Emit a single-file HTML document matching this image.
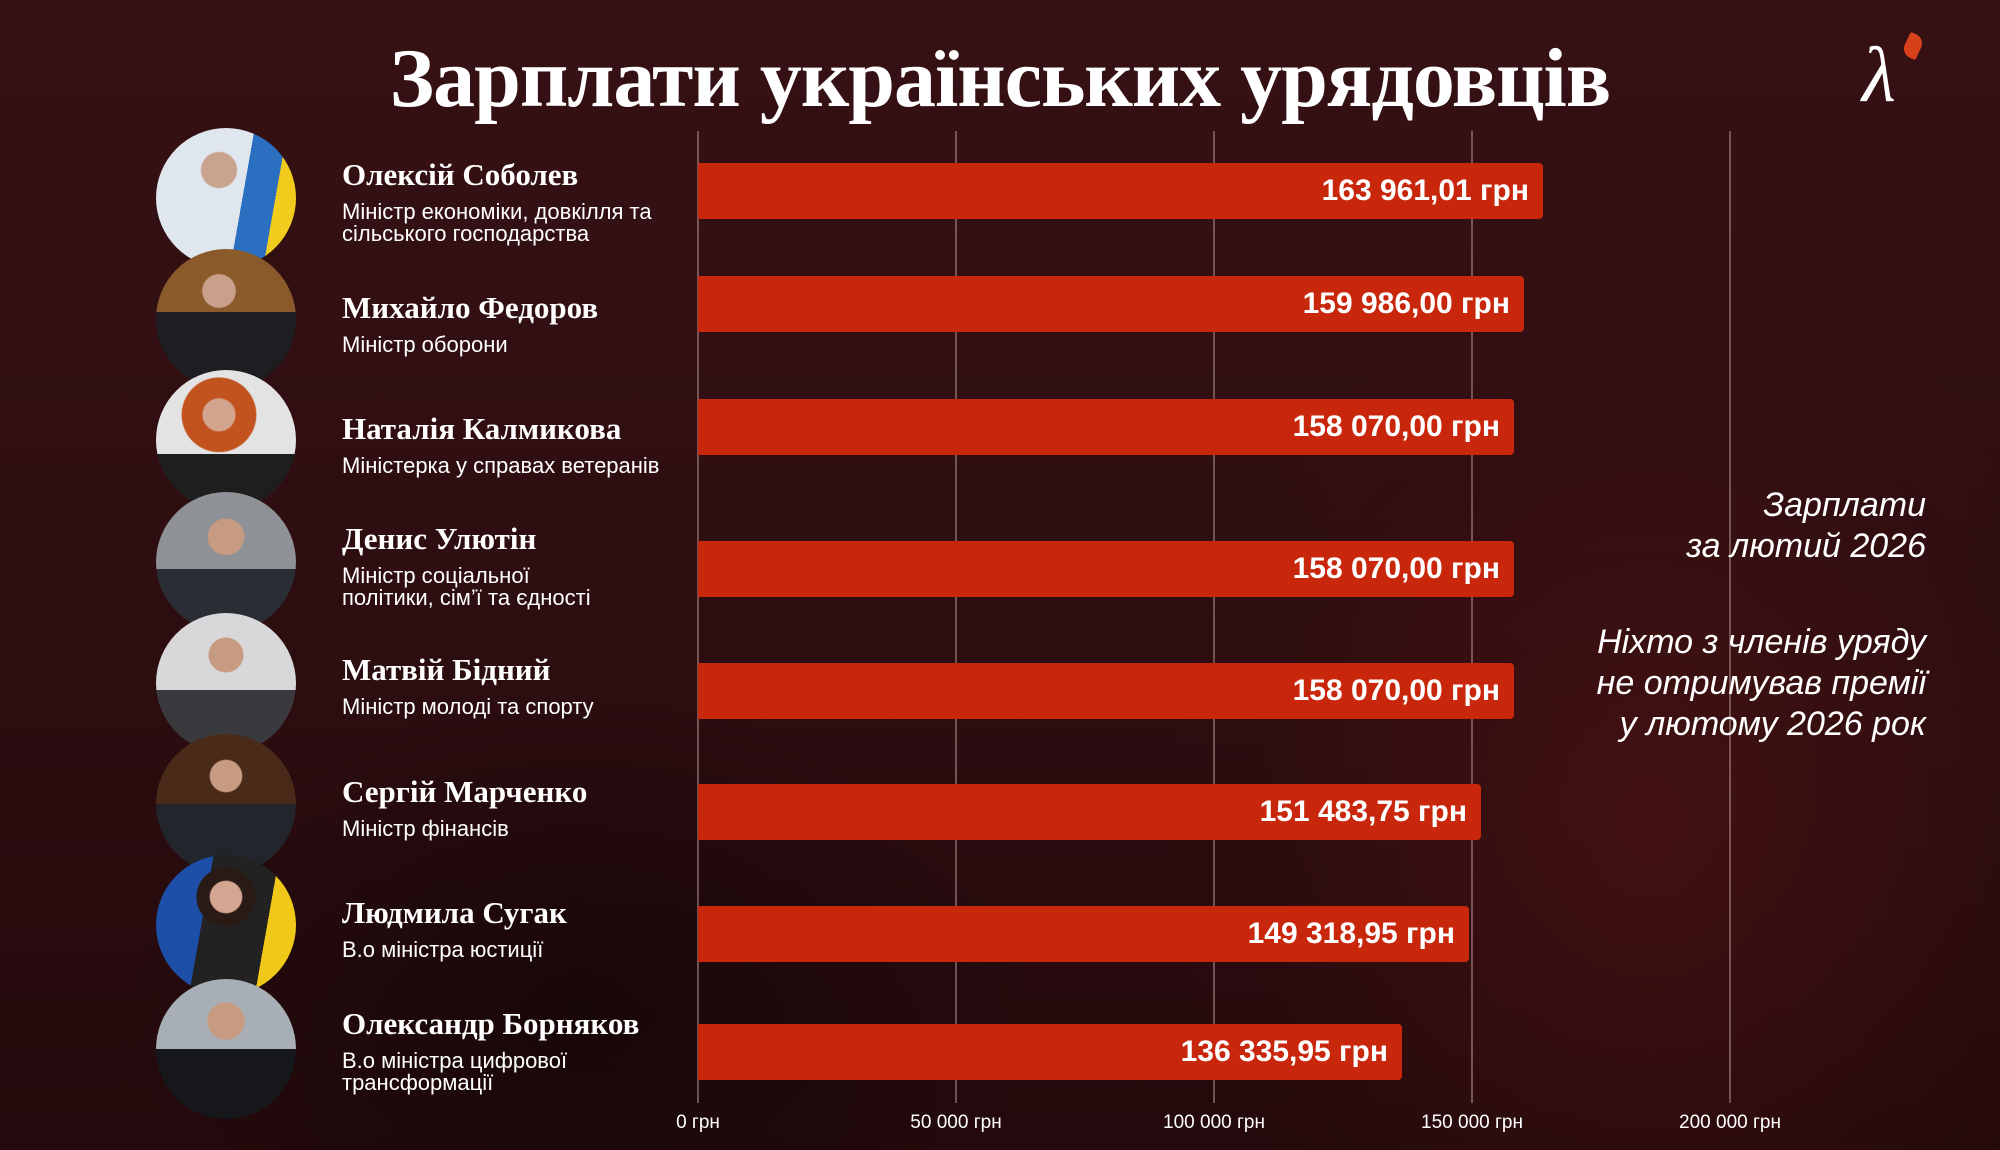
<!DOCTYPE html>
<html><head><meta charset="utf-8"><style>
*{margin:0;padding:0;box-sizing:border-box}
html{width:2000px;height:1150px;overflow:hidden}
body{width:2000px;height:1150px;overflow:hidden;background:#321013;font-family:"Liberation Sans",sans-serif;position:relative;color:#fff}
.wrap{position:absolute;left:0;top:0;width:2000px;height:1150px;overflow:hidden}
.bg{position:absolute;left:0;top:0;width:2000px;height:1150px;background:
radial-gradient(ellipse 650px 750px at 1650px 830px, rgba(110,25,22,0.35), rgba(60,14,14,0.1) 60%, rgba(0,0,0,0) 75%),
radial-gradient(ellipse 650px 450px at 580px 1010px, rgba(15,4,5,0.6), rgba(0,0,0,0) 70%),
linear-gradient(180deg,#361114 0%,#2c0d10 60%,#240a0c 100%)}
.title{position:absolute;left:0;width:2000px;top:30px;text-align:center;font-family:"Liberation Serif",serif;font-weight:bold;font-size:84px;letter-spacing:-1px}
.grid{position:absolute;top:131px;height:972px;width:2px;background:rgba(200,170,170,0.45)}
.tick{position:absolute;top:1112px;font-size:19px;transform:translateX(-50%);white-space:nowrap}
.bar{position:absolute;left:698px;height:56px;background:#c8270c;border-radius:0 4px 4px 0;text-align:right;padding-right:14px;font-weight:bold;font-size:30px;line-height:56px}
.ph{position:absolute;left:156px;width:140px;height:140px;border-radius:50%;overflow:hidden}
.nm{position:absolute;left:342px;font-family:"Liberation Serif",serif;font-weight:bold;font-size:31px}
.sb{position:absolute;left:342px;font-size:22px;line-height:22px}
.rt{position:absolute;right:74px;text-align:right;font-style:italic;font-size:34px;line-height:41px;font-weight:300}
</style></head><body><div class="wrap">
<div class="bg"></div>
<div class="title">Зарплати українських урядовців</div>
<div style="position:absolute;left:1862px;top:30px;font-family:'Liberation Serif',serif;font-size:78px;font-style:italic;color:#fff">λ</div>
<div style="position:absolute;left:1905px;top:34px;width:16px;height:24px;background:#d6401a;border-radius:2px 10px 2px 10px;transform:rotate(25deg)"></div>

<div class="grid" style="left:697px"></div>
<div class="grid" style="left:955px"></div>
<div class="grid" style="left:1213px"></div>
<div class="grid" style="left:1471px"></div>
<div class="grid" style="left:1729px"></div>
<div class="tick" style="left:698px">0 грн</div>
<div class="tick" style="left:956px">50 000 грн</div>
<div class="tick" style="left:1214px">100 000 грн</div>
<div class="tick" style="left:1472px">150 000 грн</div>
<div class="tick" style="left:1730px">200 000 грн</div>

<div class="bar" style="top:163px;width:845px">163 961,01 грн</div>
<div class="bar" style="top:276px;width:826px">159 986,00 грн</div>
<div class="bar" style="top:399px;width:816px">158 070,00 грн</div>
<div class="bar" style="top:541px;width:816px">158 070,00 грн</div>
<div class="bar" style="top:663px;width:816px">158 070,00 грн</div>
<div class="bar" style="top:784px;width:783px">151 483,75 грн</div>
<div class="bar" style="top:906px;width:771px">149 318,95 грн</div>
<div class="bar" style="top:1024px;width:704px">136 335,95 грн</div>

<div class="ph" style="top:128px;background:radial-gradient(circle at 45% 30%,#c9a38e 0 14%,rgba(0,0,0,0) 15%),linear-gradient(100deg,#dfe6ee 0 60%,#2b6fc0 60% 80%,#f2cc1c 80%)"></div>
<div class="ph" style="top:249px;background:radial-gradient(circle at 45% 30%,#c9a08a 0 13%,rgba(0,0,0,0) 14%),linear-gradient(180deg,#8a5a2a 0 45%,#1e1e22 45%)"></div>
<div class="ph" style="top:370px;background:radial-gradient(circle at 45% 32%,#d4a58e 0 13%,#c2531e 14% 30%,rgba(0,0,0,0) 31%),linear-gradient(180deg,#e3e3e3 0 60%,#1e1e1e 60%)"></div>
<div class="ph" style="top:492px;background:radial-gradient(circle at 50% 32%,#c79a82 0 15%,rgba(0,0,0,0) 16%),linear-gradient(180deg,#8e9196 0 55%,#2a2d33 55%)"></div>
<div class="ph" style="top:613px;background:radial-gradient(circle at 50% 30%,#c79a82 0 14%,rgba(0,0,0,0) 15%),linear-gradient(180deg,#d8d8da 0 55%,#3a3a3e 55%)"></div>
<div class="ph" style="top:734px;background:radial-gradient(circle at 50% 30%,#c79a82 0 13%,rgba(0,0,0,0) 14%),linear-gradient(180deg,#4a2a18 0 50%,#23252c 50%)"></div>
<div class="ph" style="top:855px;background:radial-gradient(circle at 50% 30%,#d4a590 0 13%,#2a1a16 14% 24%,rgba(0,0,0,0) 25%),linear-gradient(100deg,#1d4ea8 0 35%,#222 35% 75%,#f0c81a 75%)"></div>
<div class="ph" style="top:979px;background:radial-gradient(circle at 50% 30%,#c79a82 0 15%,rgba(0,0,0,0) 16%),linear-gradient(180deg,#a8aeb6 0 50%,#16171b 50%)"></div>

<div class="nm" style="top:157px">Олексій Соболев</div>
<div class="sb" style="top:201px">Міністр економіки, довкілля та<br>сільського господарства</div>
<div class="nm" style="top:290px">Михайло Федоров</div>
<div class="sb" style="top:334px">Міністр оборони</div>
<div class="nm" style="top:411px">Наталія Калмикова</div>
<div class="sb" style="top:455px">Міністерка у справах ветеранів</div>
<div class="nm" style="top:521px">Денис Улютін</div>
<div class="sb" style="top:565px">Міністр соціальної<br>політики, сім’ї та єдності</div>
<div class="nm" style="top:652px">Матвій Бідний</div>
<div class="sb" style="top:696px">Міністр молоді та спорту</div>
<div class="nm" style="top:774px">Сергій Марченко</div>
<div class="sb" style="top:818px">Міністр фінансів</div>
<div class="nm" style="top:895px">Людмила Сугак</div>
<div class="sb" style="top:939px">В.о міністра юстиції</div>
<div class="nm" style="top:1006px">Олександр Борняков</div>
<div class="sb" style="top:1050px">В.о міністра цифрової<br>трансформації</div>

<div class="rt" style="top:485px">Зарплати<br>за лютий 2026</div>
<div class="rt" style="top:622px">Ніхто з членів уряду<br>не отримував премії<br>у лютому 2026 рок</div>
</div></body></html>
